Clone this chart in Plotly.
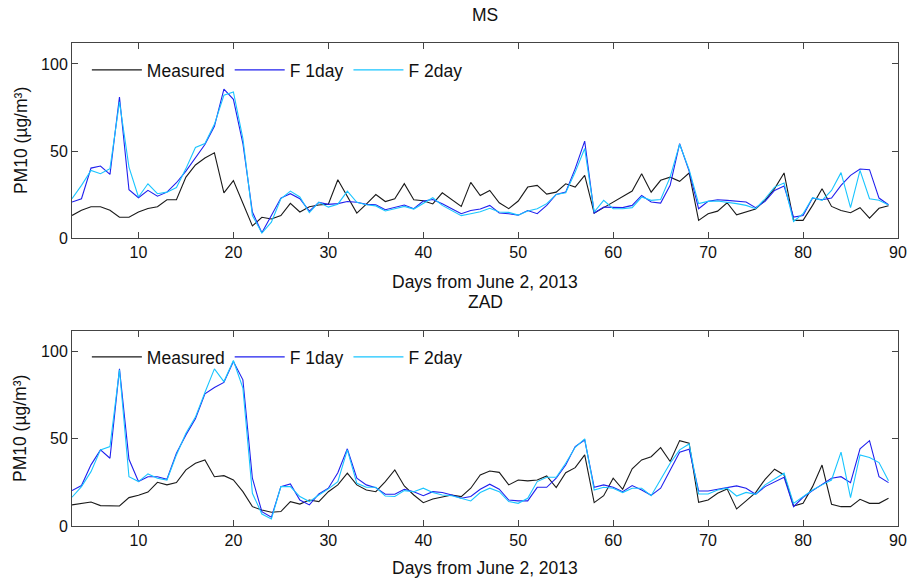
import plotly.graph_objects as go

days = list(range(3, 90))

ms_measured = [13, 16, 18, 18, 16, 12, 12, 15, 17, 18, 22, 22, 35, 42, 46, 49, 26, 33, 20, 7,
               12, 11, 13, 20, 15, 18, 19, 19.5, 33.5, 24, 14.4, 19.5, 25, 21, 22.6, 31.3, 22, 21.5, 19.6, 26,
               22, 18.2, 32, 24.5, 27.4, 20.3, 16.9, 21.3, 29.3, 30.3, 25.3, 26.4, 31.2, 29.3, 36, 14.4, 17.5, 20.7, 23.6, 27,
               37, 26.4, 33.2, 35, 32.6, 37.4, 10.2, 14, 15.5, 20.3, 13.4, 15, 16.7, 21.7, 28.4, 37.4, 10.2, 10.2, 18.8, 28.4,
               18.2, 15.9, 14.6, 17.5, 11.5, 17.1, 18.6]
ms_f1 = [20.7, 22.6, 40.2, 41.4, 36.6, 81, 27.8, 23.2, 27.4, 24.1, 26.4, 31.8, 38.5, 46.2, 53.7, 64.2, 85.5, 79.7, 54.3, 15,
         3.1, 13, 23, 25.5, 22.6, 15.5, 20.5, 19.4, 19.8, 21, 20.6, 19.4, 19.2, 16.3, 17.8, 19, 16.9, 21.3, 22.2, 19.8,
         16.9, 14, 15.9, 16.7, 18.8, 14.4, 14, 13.2, 15.8, 14, 18.8, 25.1, 26.4, 39.9, 55.7, 14.4, 17.8, 17.5, 17.5, 18.8,
         24.5, 20.7, 20.1, 30.3, 54.2, 38.5, 16.9, 21.1, 22, 21.7, 21.3, 20.7, 17.5, 21.1, 27.4, 29.9, 12.1, 13, 23, 22,
         23, 30.3, 36, 39.7, 39.3, 23, 19.2]
ms_f2 = [22.6, 30.3, 38.9, 37, 39.9, 78.2, 40.8, 23.6, 31.2, 25.5, 26.4, 29, 39.9, 52, 54.3, 65.3, 82, 83.9, 57.1, 13,
         2.9, 9.2, 22.6, 27, 23.6, 14.6, 20.7, 17.8, 19.5, 27, 20.6, 19.2, 18.5, 15.6, 16.9, 18.2, 16.7, 20.1, 23.2, 18.8,
         15.9, 12.9, 14, 15.1, 17.1, 15, 14.8, 13.2, 15.6, 16.9, 19.8, 25.1, 26, 37.9, 51.4, 15, 21.7, 16.9, 16.9, 17.5,
         23.6, 21.7, 22.2, 35, 53.9, 39.3, 19.8, 21.1, 21.3, 20.7, 19.8, 18.8, 16.9, 22.6, 29.3, 31.6, 9.6, 14, 23.2, 21.7,
         27.4, 37.6, 17.5, 38.9, 22.6, 21.7, 19]

zad_measured = [12.1, 13, 13.8, 11.7, 11.5, 11.5, 16.3, 17.6, 19.5, 25.1, 23.6, 24.9, 32.2, 36, 37.9, 28.3, 28.9, 26.4, 19.7, 11.1,
                9.2, 7.9, 8.3, 14, 12.6, 14.9, 14, 19.7, 23.6, 30.3, 23.6, 20.7, 19.7, 25.5, 32.2, 23, 17.8, 13.4, 15.5, 16.5,
                17.8, 16.9, 21.7, 29.3, 31.6, 30.8, 23.6, 26.4, 25.9, 26.4, 28.7, 22, 30.6, 33.5, 40.8, 13.4, 17.4, 27.4, 21.1, 32.8,
                37.9, 39.8, 45, 37, 49, 47.5, 13.6, 14.9, 18.8, 21.3, 9.8, 14.4, 19.2, 26.8, 32.6, 29.3, 11.5, 13, 22.6, 35,
                12.5, 11.1, 11.1, 15.3, 13, 13, 15.9]
zad_f1 = [20.3, 23.2, 35.1, 43.7, 38.9, 90.2, 38.3, 25.5, 28.3, 28.3, 26.8, 41.8, 52.3, 61.5, 75.9, 79.5, 82.4, 94.4, 83.9, 27.4,
          8.2, 5, 22.6, 24.1, 14.9, 12.1, 18.4, 21.7, 30.6, 44.3, 27.4, 23.6, 22, 18.2, 18.2, 21.1, 19.7, 17.4, 19.7, 19.2,
          17.8, 15.9, 16.9, 21.1, 24, 21.1, 14.9, 14.4, 14.4, 22.2, 22.2, 27.4, 35, 45.6, 49.4, 22.2, 23.6, 22.2, 19.7, 23.2,
          20.7, 17.6, 21.7, 32.2, 42.4, 44.1, 20.1, 20.1, 21.1, 21.7, 23, 21.7, 18.2, 22.6, 25.5, 28, 11.1, 16.5, 20.3, 24.1,
          27.4, 28.3, 24.9, 44.3, 49, 28.3, 24.9]
zad_f2 = [16.5, 22.6, 31.2, 43.7, 45.6, 89.7, 28.3, 25.5, 29.9, 27.4, 26.4, 40.8, 53.3, 62.5, 76.6, 90.2, 82.9, 95, 79.1, 18.8,
          6.9, 4, 22.6, 22.6, 16.9, 14, 17.8, 21.3, 25.5, 43.7, 24.5, 22.2, 22.2, 17.2, 16.9, 20.3, 19.7, 21.7, 19.2, 17.8,
          17.4, 15.9, 14.4, 19.2, 21.7, 19.7, 14, 13, 15.9, 25.5, 28, 28, 36, 45.2, 50, 20.7, 22.2, 21.7, 19.2, 21.7,
          21.7, 17.4, 26.4, 36, 43.7, 47.1, 18.4, 18.4, 20.7, 21.7, 17.2, 19.3, 18.2, 23.6, 27, 30.3, 13, 16.9, 20.7, 23.6,
          26.4, 42.4, 16.3, 40.8, 39.3, 36.4, 26]

series_names = ["Measured", "F 1day", "F 2day"]
colors = ["#1a1a1a", "#2020ee", "#19c5ff"]
x_ticks = [10, 20, 30, 40, 50, 60, 70, 80, 90]
y_ticks = [0, 50, 100]
titles = ["MS", "ZAD"]
x_title = "Days from June 2, 2013"
y_title = "PM10 (µg/m³)"

FONT = "Liberation Sans, Arial, sans-serif"

fig = go.Figure()
for sub, data in enumerate([(ms_measured, ms_f1, ms_f2), (zad_measured, zad_f1, zad_f2)]):
    for name, col, vals in zip(series_names, colors, data):
        fig.add_trace(go.Scatter(
            x=days, y=vals, mode="lines", name=name,
            line=dict(color=col, width=1.1),
            xaxis="x" if sub == 0 else "x2",
            yaxis="y" if sub == 0 else "y2",
            legend="legend" if sub == 0 else "legend2",
            showlegend=True,
        ))

axis_common = dict(
    showline=True, linecolor="#444444", linewidth=1, mirror="ticks",
    ticks="inside", ticklen=6, tickcolor="#444444", tickwidth=1,
    showgrid=False, zeroline=False,
    tickfont=dict(family=FONT, size=16, color="#111111"),
)

top_dom = [0.596, 1.0]
bot_dom = [0.0, 0.404]

leg_font = dict(family=FONT, size=17.5, color="#111111")
fig.update_layout(
    width=918, height=579,
    margin=dict(l=72, r=11, t=43, b=53),
    paper_bgcolor="white", plot_bgcolor="white",
    font=dict(family=FONT, size=16, color="#111111"),
    xaxis=dict(range=[3, 90], tickvals=x_ticks, domain=[0, 1], anchor="y", **axis_common),
    yaxis=dict(range=[0, 112], tickvals=y_ticks, domain=top_dom, anchor="x", **axis_common),
    xaxis2=dict(range=[3, 90], tickvals=x_ticks, domain=[0, 1], anchor="y2", **axis_common),
    yaxis2=dict(range=[0, 112], tickvals=y_ticks, domain=bot_dom, anchor="x2", **axis_common),
    legend=dict(orientation="h", x=0.018, y=0.944, xanchor="left", yanchor="middle",
                bgcolor="rgba(0,0,0,0)", itemwidth=50, font=leg_font),
    legend2=dict(orientation="h", x=0.018, y=0.35, xanchor="left", yanchor="middle",
                 bgcolor="rgba(0,0,0,0)", itemwidth=50, font=leg_font),
    showlegend=True,
)

ann_font = dict(family=FONT, size=17.5, color="#111111")
annotations = [
    dict(text=titles[0], x=0.5, y=1.058, xref="paper", yref="paper", showarrow=False,
         xanchor="center", yanchor="middle", font=ann_font),
    dict(text=titles[1], x=0.5, y=0.4638, xref="paper", yref="paper", showarrow=False,
         xanchor="center", yanchor="middle", font=ann_font),
    dict(text=x_title, x=0.5, y=0.505, xref="paper", yref="paper", showarrow=False,
         xanchor="center", yanchor="middle", font=ann_font),
    dict(text=x_title, x=0.5, y=-0.087, xref="paper", yref="paper", showarrow=False,
         xanchor="center", yanchor="middle", font=ann_font),
    dict(text=y_title, x=-0.0623, y=(top_dom[0] + top_dom[1]) / 2, xref="paper", yref="paper",
         showarrow=False, textangle=-90, xanchor="center", yanchor="middle", font=ann_font),
    dict(text=y_title, x=-0.0623, y=(bot_dom[0] + bot_dom[1]) / 2, xref="paper", yref="paper",
         showarrow=False, textangle=-90, xanchor="center", yanchor="middle", font=ann_font),
]
fig.update_layout(annotations=annotations)

fig.write_html("out.html")
